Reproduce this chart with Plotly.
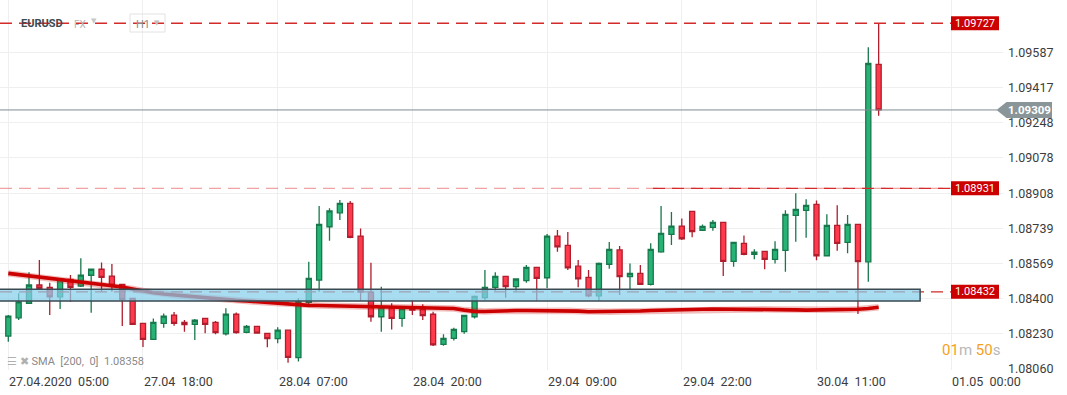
import plotly.graph_objects as go
import pandas as pd

# ---------------- data ----------------
start_time = "2020-04-27 05:00"
n_candles = 85
times = pd.date_range(start_time, periods=n_candles, freq="h")

opens = [
    1.08219, 1.08307, 1.08377, 1.08465, 1.08454, 1.08408, 1.08492, 1.08460, 1.08512, 1.08541,
    1.08508, 1.08468, 1.08401, 1.08280, 1.08203, 1.08280, 1.08320, 1.08285, 1.08275, 1.08304,
    1.08285, 1.08230, 1.08324, 1.08237, 1.08266, 1.08232, 1.08206, 1.08247, 1.08115, 1.08381,
    1.08489, 1.08746, 1.08813, 1.08859, 1.08701, 1.08430, 1.08312, 1.08360, 1.08304, 1.08353,
    1.08349, 1.08324, 1.08179, 1.08208, 1.08240, 1.08312, 1.08404, 1.08454, 1.08507, 1.08457,
    1.08486, 1.08550, 1.08500, 1.08701, 1.08656, 1.08556, 1.08502, 1.08413, 1.08565, 1.08634,
    1.08505, 1.08521, 1.08468, 1.08625, 1.08709, 1.08749, 1.08820, 1.08729, 1.08743, 1.08767,
    1.08579, 1.08666, 1.08613, 1.08627, 1.08589, 1.08632, 1.08801, 1.08825, 1.08854, 1.08606,
    1.08753, 1.08671, 1.08757, 1.08577, 1.09529,
]
highs = [
    1.08320, 1.08425, 1.08526, 1.08585, 1.08476, 1.08494, 1.08513, 1.08594, 1.08542, 1.08574,
    1.08566, 1.08470, 1.08402, 1.08282, 1.08304, 1.08328, 1.08335, 1.08296, 1.08301, 1.08306,
    1.08291, 1.08353, 1.08333, 1.08272, 1.08268, 1.08234, 1.08261, 1.08250, 1.08401, 1.08577,
    1.08846, 1.08835, 1.08875, 1.08870, 1.08738, 1.08572, 1.08457, 1.08377, 1.08360, 1.08393,
    1.08372, 1.08336, 1.08227, 1.08259, 1.08321, 1.08415, 1.08537, 1.08526, 1.08510, 1.08497,
    1.08561, 1.08553, 1.08711, 1.08730, 1.08720, 1.08585, 1.08537, 1.08573, 1.08672, 1.08653,
    1.08569, 1.08561, 1.08666, 1.08846, 1.08817, 1.08786, 1.08823, 1.08757, 1.08778, 1.08770,
    1.08671, 1.08704, 1.08637, 1.08630, 1.08676, 1.08826, 1.08907, 1.08878, 1.08873, 1.08806,
    1.08850, 1.08802, 1.08760, 1.09611, 1.09727,
]
lows = [
    1.08192, 1.08296, 1.08373, 1.08441, 1.08320, 1.08349, 1.08384, 1.08455, 1.08331, 1.08433,
    1.08433, 1.08267, 1.08272, 1.08166, 1.08200, 1.08259, 1.08269, 1.08240, 1.08200, 1.08232,
    1.08227, 1.08221, 1.08230, 1.08232, 1.08232, 1.08165, 1.08184, 1.08090, 1.08096, 1.08368,
    1.08433, 1.08678, 1.08778, 1.08691, 1.08389, 1.08288, 1.08240, 1.08251, 1.08264, 1.08320,
    1.08296, 1.08171, 1.08172, 1.08198, 1.08230, 1.08304, 1.08393, 1.08437, 1.08404, 1.08433,
    1.08476, 1.08388, 1.08450, 1.08625, 1.08537, 1.08454, 1.08406, 1.08389, 1.08543, 1.08417,
    1.08441, 1.08465, 1.08463, 1.08621, 1.08658, 1.08682, 1.08695, 1.08727, 1.08727, 1.08508,
    1.08553, 1.08609, 1.08589, 1.08541, 1.08569, 1.08529, 1.08674, 1.08693, 1.08584, 1.08604,
    1.08630, 1.08618, 1.08325, 1.08481, 1.09281,
]
closes = [
    1.08315, 1.08384, 1.08465, 1.08449, 1.08408, 1.08492, 1.08454, 1.08513, 1.08541, 1.08502,
    1.08463, 1.08396, 1.08275, 1.08203, 1.08285, 1.08315, 1.08280, 1.08274, 1.08295, 1.08275,
    1.08235, 1.08325, 1.08235, 1.08266, 1.08233, 1.08206, 1.08247, 1.08116, 1.08383, 1.08497,
    1.08757, 1.08822, 1.08859, 1.08695, 1.08431, 1.08312, 1.08360, 1.08304, 1.08353, 1.08344,
    1.08317, 1.08176, 1.08208, 1.08251, 1.08319, 1.08410, 1.08454, 1.08507, 1.08457, 1.08494,
    1.08550, 1.08497, 1.08701, 1.08649, 1.08548, 1.08495, 1.08413, 1.08569, 1.08637, 1.08505,
    1.08521, 1.08468, 1.08637, 1.08714, 1.08749, 1.08688, 1.08722, 1.08748, 1.08767, 1.08579,
    1.08671, 1.08613, 1.08624, 1.08589, 1.08637, 1.08806, 1.08830, 1.08849, 1.08606, 1.08753,
    1.08666, 1.08757, 1.08578, 1.09533, 1.09309,
]
sma_values = [
    1.08521, 1.08515, 1.08509, 1.08503, 1.08496, 1.08489, 1.08484, 1.08479, 1.08475, 1.08468,
    1.08462, 1.08455, 1.08446, 1.08436, 1.08428, 1.08422, 1.08417, 1.08412, 1.08407, 1.08402,
    1.08397, 1.08394, 1.08391, 1.08388, 1.08384, 1.08381, 1.08377, 1.08373, 1.08369, 1.08367,
    1.08366, 1.08365, 1.08364, 1.08363, 1.08362, 1.08361, 1.08360, 1.08360, 1.08359, 1.08359,
    1.08358, 1.08357, 1.08355, 1.08352, 1.08344, 1.08338, 1.08337, 1.08340, 1.08341, 1.08342,
    1.08342, 1.08342, 1.08342, 1.08342, 1.08341, 1.08339, 1.08336, 1.08336, 1.08336, 1.08337,
    1.08338, 1.08340, 1.08342, 1.08344, 1.08346, 1.08347, 1.08348, 1.08348, 1.08349, 1.08349,
    1.08349, 1.08349, 1.08349, 1.08348, 1.08347, 1.08346, 1.08345, 1.08344, 1.08344, 1.08344,
    1.08345, 1.08346, 1.08348, 1.08352, 1.08358,
]

symbol = "EURUSD"
market = "FX"
interval = "H1"
sma_legend = "SMA\u00a0 [200,\u00a0 0]\u00a0 1.08358"
timer_min, timer_sec = "01", "50"

levels = [1.09727, 1.08931, 1.08432]
level_labels = ["1.09727", "1.08931", "1.08432"]
current_price = 1.09309
current_label = "1.09309"
zone_low, zone_high = 1.08388, 1.08444
zone_start, zone_end = "2020-04-27 00:00", "2020-04-30 21:00"

x_tick_vals = ["2020-04-27 05:00", "2020-04-27 18:00", "2020-04-28 07:00", "2020-04-28 20:00",
               "2020-04-29 09:00", "2020-04-29 22:00", "2020-04-30 11:00", "2020-05-01 00:00"]
x_tick_text = ["27.04.2020  05:00", "27.04  18:00", "28.04  07:00", "28.04  20:00",
               "29.04  09:00", "29.04  22:00", "30.04  11:00", "01.05  00:00"]
y_tick_vals = [1.08060, 1.08230, 1.08400, 1.08569, 1.08739, 1.08908, 1.09078, 1.09248, 1.09417, 1.09587]
y_tick_text = ["1.08060", "1.08230", "1.08400", "1.08569", "1.08739", "1.08908",
               "1.09078", "1.09248", "1.09417", "1.09587"]

# ---------------- layout helpers ----------------
W, H = 1067, 395
ML, MR, MT, MB = 0, 64, 0, 25
PW, PH = W - ML - MR, H - MT - MB


def PX(px):
    return px / PW


def PY(py):
    return 1 - py / PH


FONT = "Roboto, 'Open Sans', sans-serif"
RED = "#cc0000"
DASH_RED = "#d42a2a"

fig = go.Figure()

fig.add_trace(go.Scatter(
    x=times, y=sma_values, mode="lines",
    line=dict(color="rgba(204,0,0,0.25)", width=6.5), hoverinfo="skip"))
fig.add_trace(go.Scatter(
    x=times, y=sma_values, mode="lines",
    line=dict(color=RED, width=3.6), hoverinfo="skip"))

fig.add_trace(go.Candlestick(
    x=times, open=opens, high=highs, low=lows, close=closes,
    increasing=dict(fillcolor="#27b376", line=dict(color="#17784c", width=1.3)),
    decreasing=dict(fillcolor="#ff3a4c", line=dict(color="#b01e2e", width=1.3)),
    whiskerwidth=0,
))

shapes = []
# white header backdrop
shapes.append(dict(type="rect", xref="paper", yref="paper", x0=0, x1=PX(172), y0=PY(33), y1=1,
                   fillcolor="white", line=dict(width=0), layer="between"))
# dashed level lines
for lv in levels:
    if lv == levels[1]:
        shapes.append(dict(type="line", xref="paper", yref="y", x0=0, x1=PX(951), y0=lv, y1=lv,
                           line=dict(color="rgba(220,50,50,0.45)", width=1.3, dash="12px,7px")))
        shapes.append(dict(type="line", xref="paper", yref="y", x0=PX(653), x1=PX(951), y0=lv, y1=lv,
                           line=dict(color=DASH_RED, width=1.3, dash="12px,7px")))
    else:
        shapes.append(dict(type="line", xref="paper", yref="y", x0=0, x1=PX(951), y0=lv, y1=lv,
                           line=dict(color=DASH_RED, width=1.3, dash="12px,7px")))
# zone rectangle
shapes.append(dict(type="rect", xref="x", yref="y", x0=zone_start, x1=zone_end,
                   y0=zone_low, y1=zone_high, fillcolor="rgba(135,206,235,0.72)",
                   line=dict(color="#3a4a52", width=1.5), layer="above"))
# current price line
shapes.append(dict(type="line", xref="paper", yref="y", x0=0, x1=PX(997), y0=current_price,
                   y1=current_price, line=dict(color="#7f8c91", width=1)))
# red level boxes
for lv in levels:
    shapes.append(dict(type="rect", xref="paper", yref="y", x0=PX(951), x1=PX(999),
                       ysizemode="pixel", yanchor=lv, y0=-7, y1=7,
                       fillcolor=RED, line=dict(width=0)))
# current price tag
shapes.append(dict(type="path", xref="paper", yref="y", xsizemode="pixel", xanchor=1,
                   ysizemode="pixel", yanchor=current_price,
                   path="M -6.5,0 L 3.5,-8 L 49,-8 L 49,8 L 3.5,8 Z",
                   fillcolor="#8a9599", line=dict(width=0)))
# H1 box
shapes.append(dict(type="rect", xref="paper", yref="paper", x0=PX(130), x1=PX(165),
                   y0=PY(32), y1=PY(14), line=dict(color="#e2e2e2", width=1),
                   fillcolor="rgba(255,255,255,0)"))

annotations = []
for tv, tt in zip(x_tick_vals, x_tick_text):
    annotations.append(dict(x=tv, y=0, xref="x", yref="paper", text=tt.replace(" ", "\u00a0"),
                            showarrow=False, xanchor="left", yanchor="top", yshift=-2, xshift=-1,
                            font=dict(family=FONT, size=12.5, color="#3c3c3c")))
for lv, lt in zip(levels, level_labels):
    annotations.append(dict(x=PX(975), y=lv, xref="paper", yref="y", text=lt, showarrow=False,
                            xanchor="center", yanchor="middle",
                            font=dict(family=FONT, size=11, color="white")))
annotations.append(dict(x=PX(1029.5), y=current_price, xref="paper", yref="y",
                        text="<b>" + current_label + "</b>", showarrow=False,
                        xanchor="center", yanchor="middle",
                        font=dict(family=FONT, size=11.5, color="white")))
# header
annotations.append(dict(x=PX(19), y=PY(23), xref="paper", yref="paper", text="<b>" + symbol + "</b>",
                        showarrow=False, xanchor="left", yanchor="middle",
                        font=dict(family=FONT, size=11, color="#3e4a52")))
annotations.append(dict(x=PX(72), y=PY(24), xref="paper", yref="paper", text=market,
                        showarrow=False, xanchor="left", yanchor="middle",
                        font=dict(family=FONT, size=10, color="#b5b5b5")))
annotations.append(dict(x=PX(89), y=PY(21), xref="paper", yref="paper", text="\u25bc",
                        showarrow=False, xanchor="left", yanchor="middle",
                        font=dict(family="DejaVu Sans", size=7, color="#c8c8c8")))
annotations.append(dict(x=PX(134), y=PY(24), xref="paper", yref="paper", text=interval,
                        showarrow=False, xanchor="left", yanchor="middle",
                        font=dict(family=FONT, size=11, color="#8a8a8a")))
annotations.append(dict(x=PX(152), y=PY(23), xref="paper", yref="paper", text="\u25bc",
                        showarrow=False, xanchor="left", yanchor="middle",
                        font=dict(family="DejaVu Sans", size=7, color="#c0c0c0")))
# SMA legend
annotations.append(dict(x=PX(5), y=PY(361), xref="paper", yref="paper",
                        text="<span style='color:#b0b0b0'>\u2630 \u2716</span> " + sma_legend,
                        showarrow=False, xanchor="left", yanchor="middle",
                        font=dict(family=FONT, size=11, color="#8a8a8a")))
# timer
annotations.append(dict(x=PX(940), y=PY(350), xref="paper", yref="paper",
                        text=("<span style='color:#f5a11c'>" + timer_min + "</span>"
                              "<span style='color:#b8b8b8'>m </span>"
                              "<span style='color:#f5a11c'>" + timer_sec + "</span>"
                              "<span style='color:#b8b8b8'>s</span>"),
                        showarrow=False, xanchor="left", yanchor="middle",
                        font=dict(family=FONT, size=15)))

fig.update_layout(
    width=W, height=H, autosize=False,
    margin=dict(l=ML, r=MR, t=MT, b=MB, pad=0),
    paper_bgcolor="white", plot_bgcolor="white",
    showlegend=False,
    shapes=shapes, annotations=annotations,
    xaxis=dict(
        range=["2020-04-27 04:12", "2020-05-01 05:00"],
        tickvals=x_tick_vals, showticklabels=False,
        showgrid=True, gridcolor="#efefef", gridwidth=1,
        zeroline=False, showline=False, ticks="",
        rangeslider=dict(visible=False), fixedrange=True,
    ),
    yaxis=dict(
        range=[1.080552, 1.098392], side="right",
        tickvals=y_tick_vals, ticktext=y_tick_text,
        tickfont=dict(family=FONT, size=12.5, color="#3c3c3c"),
        showgrid=True, gridcolor="#efefef", gridwidth=1,
        zeroline=False, showline=False, ticks="", ticklabelstandoff=4,
        fixedrange=True,
    ),
)

fig.write_html(
    "out.html",
    config={"displayModeBar": False},
    post_script="document.body.style.margin='0';document.body.style.padding='0';"
                "document.body.style.overflow='hidden';",
)
